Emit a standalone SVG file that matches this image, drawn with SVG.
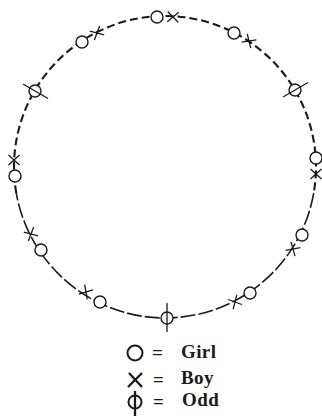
<svg xmlns="http://www.w3.org/2000/svg" xmlns:xlink="http://www.w3.org/1999/xlink" width="322" height="416" viewBox="0 0 322 416">
<style>
.ring-up{fill:none;stroke:#1a1a1a;stroke-width:2.1;stroke-dasharray:8 4}
.ring-lo{fill:none;stroke:#1a1a1a;stroke-width:1.6;stroke-dasharray:15 3}
.girl{fill:#fff;stroke:#1a1a1a;stroke-width:1.4}
.boy{fill:none;stroke:#1a1a1a;stroke-width:1.3}
.odd{fill:#fff;stroke:#1a1a1a;stroke-width:1.4}
.lg{fill:#fff;stroke:#1a1a1a;stroke-width:2}
.lgx{fill:none;stroke:#1a1a1a;stroke-width:2.3}
.t{font-family:"Liberation Serif","DejaVu Serif",serif;font-weight:bold;font-size:19px;letter-spacing:0.4px;fill:#1a1a1a}
.eq{font-family:"Liberation Serif","DejaVu Serif",serif;font-weight:bold;font-size:19px;fill:#1a1a1a}
</style>
<defs>
<path id="xm" d="M-5.5,-5 L5.5,5 M-5.5,5 L5.5,-5" class="boy"/>
</defs>
<rect width="322" height="416" fill="#fff"/>
<g id="connectors">
<path class="ring-up" d="M16.3,193.2 A151,151 0 1 1 313.7,193.2"/>
<path class="ring-lo" d="M313.7,193.2 A151,151 0 0 1 16.3,193.2"/>
</g>
<g id="top"><circle class="girl" cx="157" cy="17" r="6"/><use xlink:href="#xm" transform="translate(173,17) rotate(3)"/></g>
<g id="upper-left"><circle class="girl" cx="82" cy="42" r="6"/><use xlink:href="#xm" transform="translate(97,33) rotate(-27)"/></g>
<g id="upper-right"><circle class="girl" cx="234" cy="33" r="6"/><use xlink:href="#xm" transform="translate(249,41) rotate(34)"/></g>
<g id="odd-left"><circle class="odd" cx="35" cy="91" r="6"/><line class="boy" x1="23" y1="84" x2="48" y2="98.5"/></g>
<g id="odd-right"><circle class="odd" cx="295" cy="90" r="6"/><line class="boy" x1="283" y1="97" x2="308" y2="82.5"/></g>
<g id="left"><use xlink:href="#xm" transform="translate(14,160) rotate(0)"/><circle class="girl" cx="15" cy="176" r="6"/></g>
<g id="right"><circle class="girl" cx="316" cy="158" r="6"/><use xlink:href="#xm" transform="translate(316,174) rotate(0)"/></g>
<g id="lower-left"><use xlink:href="#xm" transform="translate(31,234) rotate(-27)"/><circle class="girl" cx="41" cy="250" r="6"/></g>
<g id="lower-right"><circle class="girl" cx="302" cy="235" r="6"/><use xlink:href="#xm" transform="translate(293,249) rotate(32)"/></g>
<g id="bottom-left"><use xlink:href="#xm" transform="translate(86,292) rotate(-58)"/><circle class="girl" cx="100" cy="302" r="6"/></g>
<g id="bottom-right"><use xlink:href="#xm" transform="translate(235,302) rotate(62)"/><circle class="girl" cx="250" cy="293" r="6"/></g>
<g id="odd-bottom"><circle class="odd" cx="167" cy="318" r="6"/><line class="boy" x1="167" y1="303" x2="167" y2="332"/></g>
<g id="legend">
<circle class="lg" cx="135" cy="353" r="7.5"/>
<text class="eq" x="152" y="359">=</text>
<text class="t" x="181" y="358">Girl</text>
<path class="lgx" d="M129,373 L142,387 M142,373 L128,387"/>
<text class="eq" x="153" y="386">=</text>
<text class="t" x="181" y="384">Boy</text>
<circle class="lg" cx="135" cy="402" r="6.5"/>
<line class="lgx" x1="135" y1="391" x2="135" y2="416"/>
<text class="eq" x="153" y="408">=</text>
<text class="t" x="182" y="406">Odd</text>
</g>
</svg>
